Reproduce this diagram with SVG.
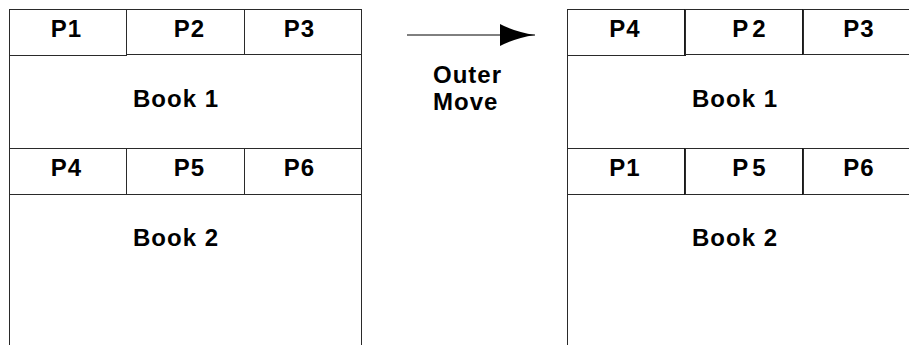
<svg xmlns="http://www.w3.org/2000/svg" width="909" height="345" viewBox="0 0 909 345">
<style>
.cell{fill:#fff;stroke:#2a2a2a;stroke-width:1}
.rcell{fill:#fff;stroke:#2a2a2a;stroke-width:1}
.vdiv{stroke:#1a1a1a;stroke-width:2}
.lbl{font-family:"Liberation Sans",Arial,sans-serif;font-weight:bold;font-size:24px;letter-spacing:1px;fill:#000;text-anchor:middle}
.wide{letter-spacing:4px}
.note{font-family:"Liberation Sans",Arial,sans-serif;font-weight:bold;font-size:24px;letter-spacing:1px;fill:#000}
.conn{stroke:#000;stroke-width:1;fill:none}
</style>
<defs>
<marker id="ah" markerUnits="userSpaceOnUse" markerWidth="36" markerHeight="22" refX="35" refY="11" orient="auto">
<path d="M0,0 Q15,8 35,11 Q15,14 0,22 Z" fill="#000"/>
</marker>
</defs>
<rect width="909" height="345" fill="#fff"/>

<g id="left-side">
<g id="left-book2"><rect class="cell" x="9.5" y="194.5" width="352" height="200"/><text class="lbl" x="176" y="246">Book 2</text></g>
<g id="left-book1"><rect class="cell" x="9.5" y="54.5" width="352" height="94"/><text class="lbl" x="176" y="106.5">Book 1</text></g>
<g id="left-p1"><rect class="cell" x="9.5" y="9.5" width="117" height="46"/><text class="lbl" x="66.5" y="36.5">P1</text></g>
<g id="left-p2"><rect class="cell" x="126.5" y="9.5" width="118" height="45"/><text class="lbl" x="189.5" y="36.5">P2</text></g>
<g id="left-p3"><rect class="cell" x="244.5" y="9.5" width="117" height="45"/><text class="lbl" x="299.5" y="36.5">P3</text></g>
<g id="left-p4"><rect class="cell" x="9.5" y="148.5" width="117" height="46"/><text class="lbl" x="66.5" y="176">P4</text></g>
<g id="left-p5"><rect class="cell" x="126.5" y="148.5" width="118" height="46"/><text class="lbl" x="189.5" y="176">P5</text></g>
<g id="left-p6"><rect class="cell" x="244.5" y="148.5" width="117" height="46"/><text class="lbl" x="299.5" y="176">P6</text></g>
</g>

<g id="right-side">
<g id="right-book2"><rect class="rcell" x="567.5" y="194.5" width="352" height="200"/><text class="lbl" x="735" y="246">Book 2</text></g>
<g id="right-book1"><rect class="rcell" x="567.5" y="54.5" width="352" height="94"/><text class="lbl" x="735" y="106.5">Book 1</text></g>
<g id="right-p4"><rect class="rcell" x="567.5" y="9.5" width="117" height="46"/><line class="vdiv" x1="685" y1="9" x2="685" y2="56"/><text class="lbl" x="625" y="36.5">P4</text></g>
<g id="right-p2"><rect class="rcell" x="685.5" y="9.5" width="118" height="45"/><line class="vdiv" x1="803" y1="9" x2="803" y2="55"/><text class="lbl wide" x="751" y="36.5">P2</text></g>
<g id="right-p3"><rect class="rcell" x="803.5" y="9.5" width="117" height="45"/><text class="lbl" x="859" y="36.5">P3</text></g>
<g id="right-p1"><rect class="rcell" x="567.5" y="148.5" width="117" height="46"/><line class="vdiv" x1="685" y1="148" x2="685" y2="195"/><text class="lbl" x="625" y="176">P1</text></g>
<g id="right-p5"><rect class="rcell" x="685.5" y="148.5" width="118" height="46"/><line class="vdiv" x1="803" y1="148" x2="803" y2="195"/><text class="lbl wide" x="751" y="176">P5</text></g>
<g id="right-p6"><rect class="rcell" x="803.5" y="148.5" width="117" height="46"/><text class="lbl" x="859" y="176">P6</text></g>
</g>

<g id="connectors">
<line class="conn" x1="407" y1="35" x2="535" y2="35" marker-end="url(#ah)"/>
<text class="note" x="433" y="83">Outer</text>
<text class="note" x="433" y="109.5">Move</text>
</g>
</svg>
